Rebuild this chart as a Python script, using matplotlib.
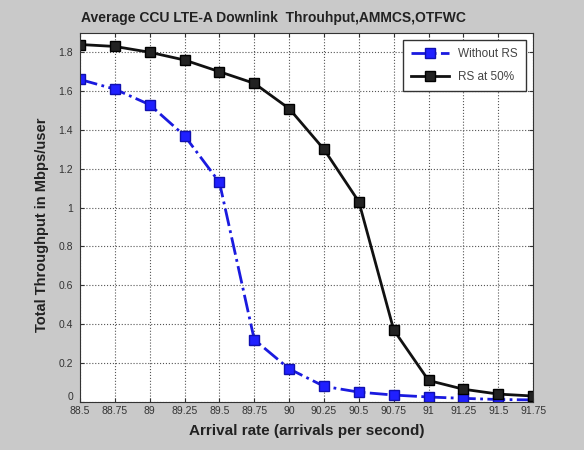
import matplotlib.pyplot as plt
import numpy as np

# Arrival rate (arrivals per second) and average throughput per user
arrival_rate = [88.5, 88.75, 89, 89.25, 89.5, 89.75, 90, 90.25, 90.5, 90.75, 91, 91.25, 91.5, 91.75]
without_rs = [1.66, 1.61, 1.53, 1.37, 1.13, 0.32, 0.17, 0.08, 0.05, 0.035, 0.025, 0.018, 0.012, 0.01]
rs_50 = [1.84, 1.83, 1.80, 1.76, 1.70, 1.64, 1.51, 1.30, 1.03, 0.37, 0.11, 0.065, 0.04, 0.03]
tick_labels = ['88.5', '88.75', '89', '89.25', '89.5', '89.75', '90', '90.25',
               '90.5', '90.75', '91', '91.25', '91.5', '91.75']

plt.rcParams['font.family'] = ['Liberation Sans', 'DejaVu Sans']

fig = plt.figure(figsize=(5.84, 4.5), dpi=100, facecolor='#c9c9c9')
ax = fig.add_axes([0.137, 0.107, 0.776, 0.82])

ax.plot(arrival_rate, without_rs, '-.s', color='#1a1adf', linewidth=2,
        markersize=6.5, markerfacecolor='#2020ff', markeredgecolor='#1010b0',
        label='Without RS')
ax.plot(arrival_rate, rs_50, '-s', color='#111111', linewidth=2,
        markersize=6.5, markerfacecolor='#222222', markeredgecolor='#000000',
        label='RS at 50%')

ax.set_xlim(88.5, 91.75)
ax.set_ylim(0, 1.9)
ax.set_xticks(arrival_rate)
ax.set_xticklabels(tick_labels)
ax.set_yticks(np.arange(0, 1.81, 0.2))
ax.set_yticklabels(['0', '0.2', '0.4', '0.6', '0.8', '1', '1.2', '1.4', '1.6', '1.8'])
ax.tick_params(direction='in', labelsize=7.5, colors='#333333', length=3,
               top=True, right=True)
ax.tick_params(axis='x', pad=3)
ax.tick_params(axis='y', pad=5)
# lift the "0" label a little so it clears the first x label
ax.get_yticklabels()[0].set_verticalalignment('bottom')
ax.grid(True, linestyle=':', color='#555555', linewidth=0.8)
for s in ax.spines.values():
    s.set_color('#333333')

ax.set_title('Average CCU LTE-A Downlink  Throuhput,AMMCS,OTFWC',
             fontsize=10, fontweight='bold', color='#222222', pad=8, x=0.427)
ax.set_xlabel('Arrival rate (arrivals per second)', fontsize=11,
              fontweight='bold', color='#222222', labelpad=6)
ax.set_ylabel('Total Throughput in Mbps/user', fontsize=10.5,
              fontweight='bold', color='#222222', labelpad=7, y=0.48)

leg = ax.legend(loc='upper right', fontsize=8.5, fancybox=False,
                edgecolor='#333333', framealpha=1, handlelength=3.2,
                labelspacing=0.9, borderpad=0.7, borderaxespad=0.6)
for t in leg.get_texts():
    t.set_color('#444444')

fig.savefig('out.png', dpi=100, facecolor=fig.get_facecolor())
